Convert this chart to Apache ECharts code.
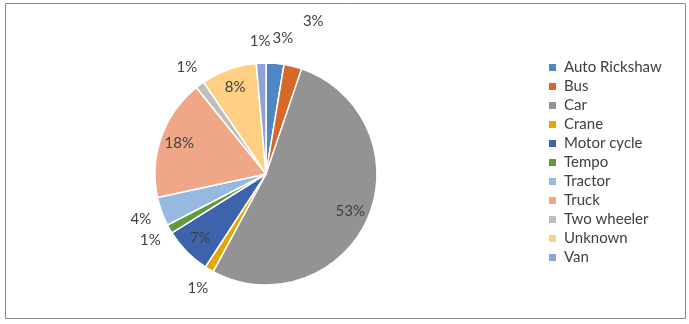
<!DOCTYPE html>
<html>
<head>
<meta charset="utf-8">
<script src="https://cdn.jsdelivr.net/npm/echarts@6/dist/echarts.min.js"></script>
<style>
    body { margin: 0; background: #fff; }
    #chart { width: 689px; height: 324px; }
</style>
</head>
<body>
<div id="chart"></div>
<script>
// vehicle types, clockwise from 12 o'clock
const categories = ['Auto Rickshaw', 'Bus', 'Car', 'Crane', 'Motor cycle', 'Tempo', 'Tractor', 'Truck', 'Two wheeler', 'Unknown', 'Van'];
// share in percent
const shares = [2.6, 2.6, 52.7, 1.3, 6.9, 1.3, 4.2, 17.6, 1.3, 8.1, 1.4];
const colors = ['#4f87c2', '#d5692a', '#939393', '#e3a800', '#3d63ac', '#60993f', '#95b9e0', '#f0a788', '#bdbdbd', '#ffd083', '#8fa2d6'];
// which slices carry their label inside
const insideLabels = ['Car', 'Motor cycle', 'Truck', 'Unknown'];

const font = 'Lato, "Open Sans", sans-serif';
const center = [266, 174];

let chart = echarts.init(document.getElementById('chart'));

// label carrier rings (transparent) so labels sit where Excel puts them
function labelRing(radius, inside) {
    return {
        type: 'pie',
        radius: radius,
        center: center,
        startAngle: 90,
        clockwise: true,
        silent: true,
        animation: false,
        tooltip: { show: false },
        itemStyle: { color: 'rgba(0,0,0,0)', borderWidth: 0 },
        emphasis: { disabled: true },
        labelLine: { show: false },
        data: categories.map((name, i) => {
            let show = insideLabels.includes(name) === inside;
            let label = { show: show };
            if (name === 'Auto Rickshaw') label.offset = [6, -3];
            if (name === 'Bus') label.offset = [15, -24];
            return { name: name, value: shares[i], label: label };
        }),
        label: {
            position: 'inside',
            fontFamily: font,
            fontSize: 15,
            color: '#404040',
            formatter: (p) => Math.round(p.percent) + '%'
        }
    };
}

let option = {
    animation: false,
    color: colors,
    graphic: [
        {
            type: 'rect',
            shape: { x: 5.5, y: 3.5, width: 680, height: 315 },
            style: { fill: 'none', stroke: '#8a8a8a', lineWidth: 1 }
        }
    ],
    legend: {
        orient: 'vertical',
        left: 542,
        top: 55,
        itemWidth: 9,
        itemHeight: 9,
        itemGap: 4,
        icon: 'rect',
        data: categories,
        textStyle: { fontFamily: font, fontSize: 15, color: '#404040', padding: [0, 0, 0, 2] }
    },
    series: [
        {
            type: 'pie',
            radius: 111,
            center: center,
            startAngle: 90,
            clockwise: true,
            label: { show: false },
            labelLine: { show: false },
            itemStyle: { borderColor: '#fff', borderWidth: 1.5 },
            data: categories.map((name, i) => ({ name: name, value: shares[i] }))
        },
        labelRing([80, 98], true),
        labelRing([122, 138], false)
    ]
};
chart.setOption(option);
window.onresize = chart.resize;
</script>
</body>
</html>
